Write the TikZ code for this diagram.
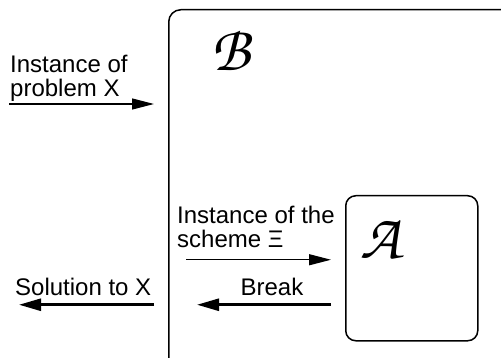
\documentclass[tikz,border=0pt]{standalone}
\usepackage{fontspec}
\setmainfont{Liberation Sans}
\usetikzlibrary{positioning, arrows.meta, calc}

\newcommand{\chancery}{\fontencoding{OT1}\fontfamily{pzc}\fontseries{mb}\fontshape{it}\selectfont}

\begin{document}
\begin{tikzpicture}[
    x=1pt, y=-1pt,
    % Styles for boxes and labels
    box/.style={draw, rectangle, rounded corners=12pt, line width=1.5pt, anchor=north west, inner sep=0pt},
    lbl/.style={font=\fontsize{24}{24.5}\selectfont, inner sep=0pt, align=left},
    sym/.style={font=\fontsize{64}{64}\chancery, inner sep=0pt},
    % Arrow styles
    in_arrow/.style={-{Triangle[length=22pt, width=11pt]}, line width=1.3pt},
    out_arrow/.style={-{Triangle[length=22pt, width=12pt]}, line width=2.6pt}
]
    \useasboundingbox (0,0) rectangle (501,358);
    \clip (0,0) rectangle (501,358);

    % ==================== Boxes ====================
    \node (boxB) [box, minimum width=360pt, minimum height=370pt] at (168,9) {};
    \node (boxA) [box, rounded corners=10pt, minimum width=132pt, minimum height=145pt] at (345,195) {};

    \node (symB) [sym] at (231,50) {B};
    \node (symA) [sym] at (380,238) {A};

    % ==================== Into B ====================
    \coordinate (in_src) at (9,104);
    \coordinate (in_dst) at ($(boxB.west |- in_src) + (-14,0)$);
    \draw [in_arrow] (in_src) -- (in_dst);
    \node (probin) [lbl, anchor=south west] at (10,102) {Instance of\\problem X};

    % ==================== B to A ====================
    \coordinate (sch_dst) at ($(boxA.west) + (-14,-8.5)$);
    \coordinate (sch_src) at (186,0 |- sch_dst);
    \draw [in_arrow] (sch_src) -- (sch_dst);
    \node (schin) [lbl, anchor=south west] at (177,248) {Instance of the\\scheme Ξ};

    % ==================== Back out ====================
    \coordinate (brk_src) at ($(boxA.west) + (-14,36.5)$);
    \coordinate (brk_dst) at (197,0 |- brk_src);
    \draw [out_arrow] (brk_src) -- (brk_dst);
    \node (brklbl) [lbl, anchor=base] at (272,295) {Break};

    \coordinate (sol_src) at ($(boxB.west |- brk_src) + (-14,0)$);
    \coordinate (sol_dst) at (19,0 |- sol_src);
    \draw [out_arrow] (sol_src) -- (sol_dst);
    \node (sollbl) [lbl, anchor=base west] at (15,295) {Solution to X};

\end{tikzpicture}
\end{document}
